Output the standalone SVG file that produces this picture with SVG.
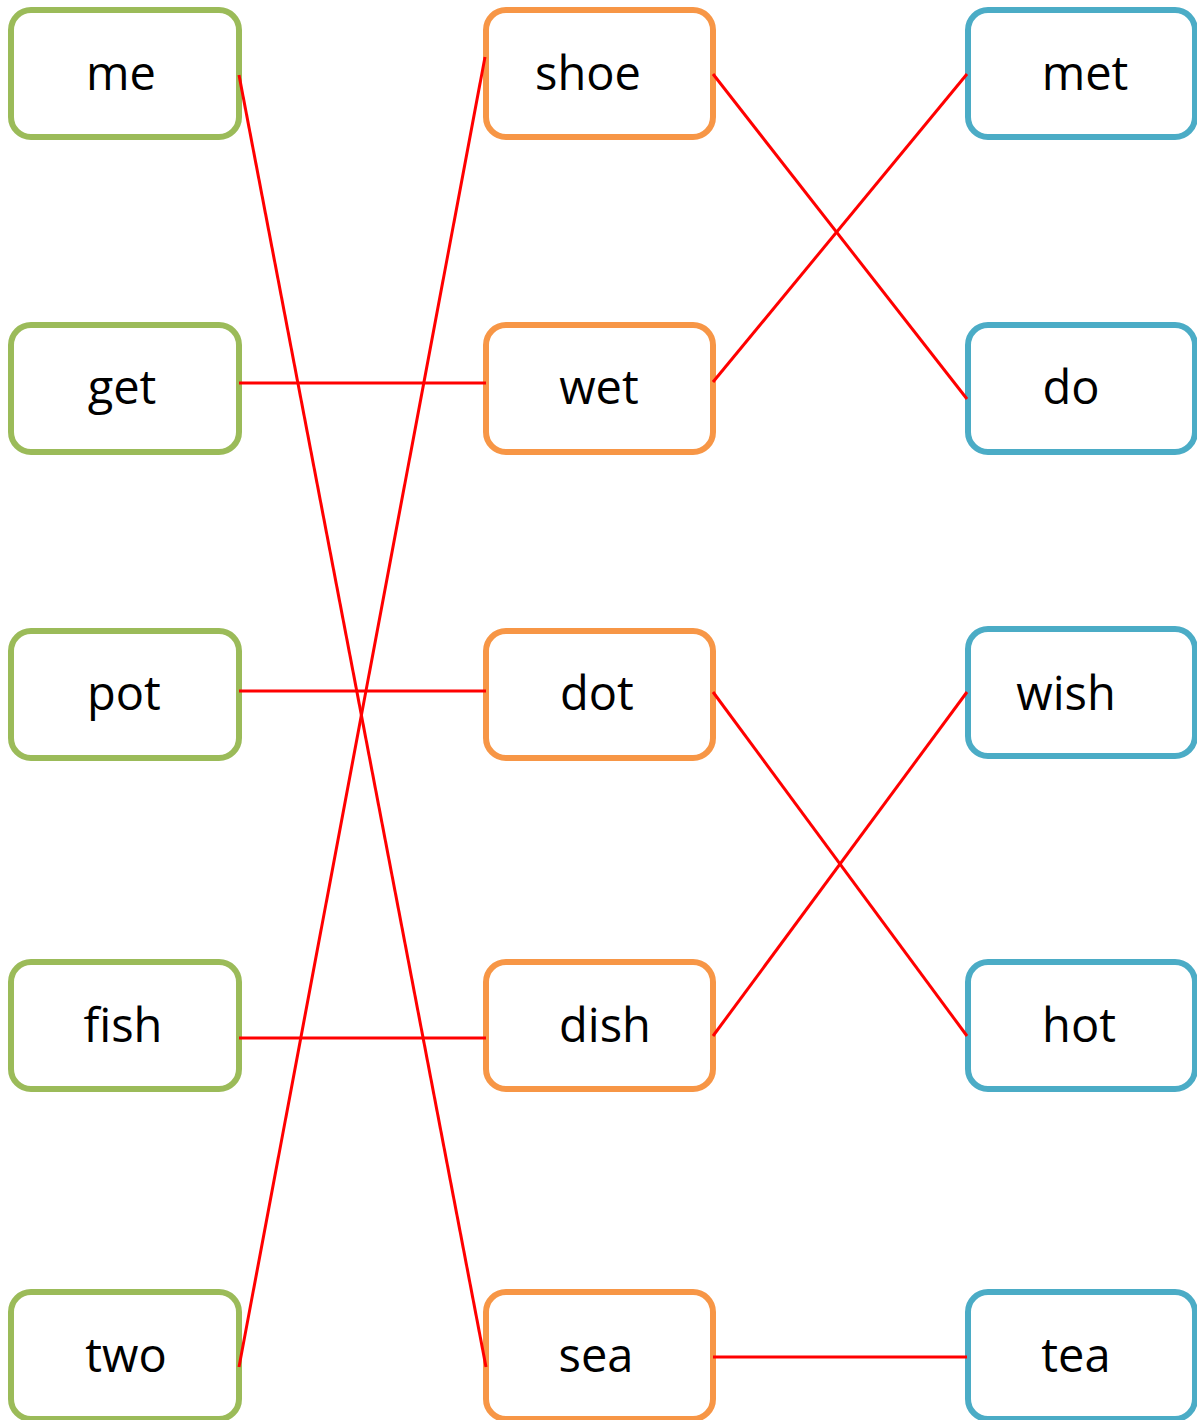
<svg xmlns="http://www.w3.org/2000/svg" width="1197" height="1420" viewBox="0 0 1197 1420">
<style>
.box{fill:#fff;stroke-width:6}
.g{stroke:#9BBB59}
.o{stroke:#F79646}
.b{stroke:#4BACC6}
text{font-family:"Open Sans","Noto Sans",sans-serif;font-size:47px;fill:#000;text-anchor:middle}
.c line{stroke:#FF0000;stroke-width:3}
</style>
<rect width="1197" height="1420" fill="#fff"/>
<g id="n-me"><rect class="box g" x="11" y="10" width="228" height="127" rx="20"/><text x="121" y="90">me</text></g>
<g id="n-get"><rect class="box g" x="11" y="325" width="228" height="127" rx="20"/><text x="122" y="404">get</text></g>
<g id="n-pot"><rect class="box g" x="11" y="631" width="228" height="127" rx="20"/><text x="124" y="710">pot</text></g>
<g id="n-fish"><rect class="box g" x="11" y="962" width="228" height="127" rx="20"/><text x="123" y="1042">fish</text></g>
<g id="n-two"><rect class="box g" x="11" y="1292" width="228" height="127" rx="20"/><text x="126" y="1372">two</text></g>
<g id="n-shoe"><rect class="box o" x="486" y="10" width="227" height="127" rx="20"/><text x="588" y="90">shoe</text></g>
<g id="n-wet"><rect class="box o" x="486" y="325" width="227" height="127" rx="20"/><text x="599" y="404">wet</text></g>
<g id="n-dot"><rect class="box o" x="486" y="631" width="227" height="127" rx="20"/><text x="597" y="710">dot</text></g>
<g id="n-dish"><rect class="box o" x="486" y="962" width="227" height="127" rx="20"/><text x="605" y="1042">dish</text></g>
<g id="n-sea"><rect class="box o" x="486" y="1292" width="227" height="127" rx="20"/><text x="596" y="1372">sea</text></g>
<g id="n-met"><rect class="box b" x="968" y="10" width="227" height="127" rx="20"/><text x="1085" y="90">met</text></g>
<g id="n-do"><rect class="box b" x="968" y="325" width="227" height="127" rx="20"/><text x="1071" y="404">do</text></g>
<g id="n-wish"><rect class="box b" x="968" y="629" width="227" height="127" rx="20"/><text x="1066" y="710">wish</text></g>
<g id="n-hot"><rect class="box b" x="968" y="962" width="227" height="127" rx="20"/><text x="1079" y="1042">hot</text></g>
<g id="n-tea"><rect class="box b" x="968" y="1292" width="227" height="127" rx="20"/><text x="1076" y="1372">tea</text></g>
<g id="connectors" class="c">
<line x1="239" y1="75" x2="486" y2="1367"/>
<line x1="485" y1="57" x2="239" y2="1367"/>
<line x1="239" y1="383" x2="486" y2="383"/>
<line x1="239" y1="691" x2="486" y2="691"/>
<line x1="239" y1="1038" x2="486" y2="1038"/>
<line x1="713" y1="74" x2="967" y2="399"/>
<line x1="713" y1="382" x2="967" y2="74"/>
<line x1="713" y1="692" x2="967" y2="1036"/>
<line x1="713" y1="1036" x2="967" y2="692"/>
<line x1="713" y1="1357" x2="967" y2="1357"/>
</g>
</svg>
